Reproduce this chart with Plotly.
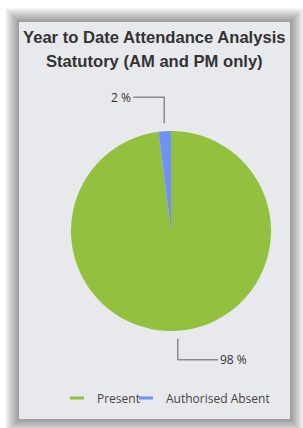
import math
import plotly.graph_objects as go

# ---- data ----
labels = ["Present", "Authorised Absent"]
values = [98, 2]
colors = ["#93c13f", "#7092f7"]
title_lines = ["Year to Date Attendance Analysis", "Statutory (AM and PM only)"]

# ---- geometry (pixels) ----
W, H = 303, 428
card = (19, 22, 290, 419)          # x0, y0, x1, y1
cx, cy, R = 171, 231, 100           # pie centre / radius
# leader-line styling per label: (vertical length, horizontal length)
leader_style = [(21, 40), (26, 31)]
legend_widths = [24, None]


def px(x):
    return x / W


def py(y):
    return 1 - y / H


fig = go.Figure()

fig.add_trace(go.Pie(
    labels=labels, values=values, sort=False, direction="clockwise", rotation=0,
    marker=dict(colors=colors, line=dict(width=0)),
    textinfo="none", hoverinfo="label+percent", showlegend=False,
    domain=dict(x=[px(cx - R), px(cx + R)], y=[py(cy + R), py(cy - R)]),
))

# legend entries (line-style symbols)
for lab, col, lw in zip(labels, colors, legend_widths):
    fig.add_trace(go.Scatter(
        x=[None], y=[None], mode="markers", name=lab, legendwidth=lw,
        marker=dict(symbol="line-ew-open", size=10, color=col, line=dict(width=3, color=col)),
    ))

shapes = []
# card shadow
for d in range(14, 0, -1):
    shapes.append(dict(type="rect", xref="paper", yref="paper", layer="below",
                       x0=px(card[0] - d), x1=px(card[2] + d), y0=py(card[3] + d), y1=py(card[1] - d),
                       fillcolor="rgba(0,0,0,0.03)", line=dict(width=0)))
shapes.append(dict(type="rect", xref="paper", yref="paper", layer="below",
                   x0=px(card[0]), x1=px(card[2]), y0=py(card[3]), y1=py(card[1]),
                   fillcolor="#e8e9ed", line=dict(width=0)))

annotations = []
# title
for i, t in enumerate(title_lines):
    annotations.append(dict(text="<b>%s</b>" % t, x=px((card[0] + card[2]) / 2), y=py(37 + 24 * i),
                            xref="paper", yref="paper", showarrow=False, xanchor="center", yanchor="middle",
                            font=dict(family="Liberation Sans, Arial", size=16.6, color="#333333")))

# outside percentage labels with elbow leader lines
total = sum(values)
cum = 0
for v, (vlen, hlen) in zip(values, leader_style):
    mid = (cum + v / 2) / total * 2 * math.pi
    cum += v
    ax = cx + (R + 8) * math.sin(mid)
    ay = cy - (R + 8) * math.cos(mid)
    sy = -1 if ay < cy else 1
    sx = 1 if ax >= cx else -1
    ey = ay + sy * vlen
    ex = ax + sx * hlen
    shapes.append(dict(type="path", xref="paper", yref="paper", layer="above",
                       path="M %f,%f L %f,%f L %f,%f" % (px(ax), py(ay), px(ax), py(ey), px(ex), py(ey)),
                       line=dict(color="#8a8a8a", width=1.5)))
    annotations.append(dict(text="%d %%" % round(v / total * 100), x=px(ex), y=py(ey),
                            xref="paper", yref="paper", showarrow=False,
                            xanchor="left" if sx > 0 else "right", yanchor="middle",
                            font=dict(family="Open Sans", size=12, color="#333333")))

fig.update_layout(
    width=W, height=H, margin=dict(l=0, r=0, t=0, b=0),
    paper_bgcolor="white", plot_bgcolor="rgba(0,0,0,0)",
    xaxis=dict(visible=False), yaxis=dict(visible=False),
    shapes=shapes, annotations=annotations,
    showlegend=True,
    legend=dict(orientation="h", x=px(57), xanchor="left", y=py(398), yanchor="middle",
                bgcolor="rgba(0,0,0,0)", font=dict(family="Open Sans", size=12, color="#444444"),
                itemwidth=30, tracegroupgap=0),
)

fig.write_html("out.html", config={"displayModeBar": False},
               post_script="document.body.style.margin='0';")
